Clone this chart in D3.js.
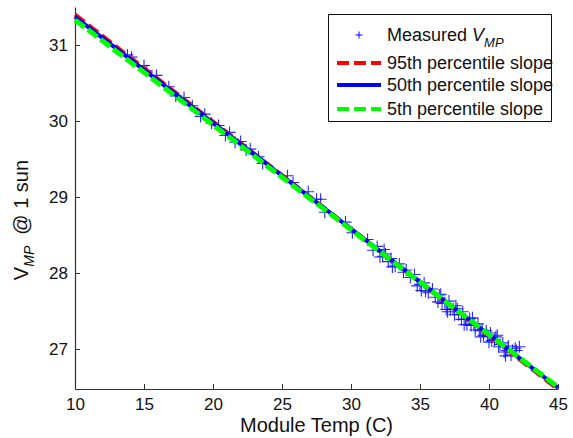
<!DOCTYPE html>
<html><head><meta charset="utf-8">
<script src="https://cdn.jsdelivr.net/npm/d3@7"></script>
<style>
body{margin:0;background:#fff;}
svg{display:block;font-family:"Liberation Sans",Arial,Helvetica,sans-serif;}
</style></head>
<body><svg id="c" width="573" height="438"></svg>
<script>
const temps = [13.8,14.1,15.0,15.2,15.9,16.8,17.3,17.9,18.5,19.1,19.4,19.9,20.4,20.9,21.2,21.6,22.0,22.4,22.7,23.3,23.6,25.4,25.8,26.9,27.5,27.8,28.1,29.6,30.1,31.2,31.6,31.9,32.1,32.3,32.5,32.7,32.9,33.2,33.5,33.8,34.0,34.3,34.6,34.8,35.0,35.1,35.3,35.6,35.9,36.1,36.3,36.4,36.6,36.8,36.9,37.1,37.2,37.4,37.5,37.7,37.8,38.0,38.1,38.3,38.4,38.6,38.7,38.9,39.0,39.2,39.3,39.5,39.6,39.8,39.9,40.1,40.2,40.4,40.5,40.7,40.8,41.0,41.1,41.3,41.4,41.6,41.7,41.9,42.0,42.2,36.5,37.0,37.6,38.2,38.8,39.4,40.0,40.6,41.2,35.4,33.0,32.4];
const vmp = [30.87,30.84,30.73,30.66,30.60,30.45,30.33,30.31,30.20,30.06,30.09,29.97,29.94,29.81,29.85,29.72,29.73,29.62,29.63,29.53,29.44,29.28,29.19,29.07,28.97,28.97,28.80,28.67,28.53,28.44,28.30,28.35,28.21,28.22,28.25,28.15,28.19,28.09,28.12,28.01,28.04,27.94,27.98,27.83,27.85,27.77,27.87,27.74,27.79,27.68,27.62,27.71,27.60,27.61,27.52,27.63,27.52,27.53,27.45,27.53,27.45,27.39,27.49,27.39,27.32,27.40,27.31,27.33,27.25,27.33,27.24,27.25,27.18,27.24,27.17,27.21,27.11,27.12,27.16,27.03,27.06,27.08,26.96,26.98,27.04,26.92,26.98,27.01,26.98,27.03,27.72,27.49,27.57,27.32,27.41,27.16,27.09,27.18,26.91,27.76,28.08,28.31];
const lineTemps = [10, 45];
const p95 = [31.40, 26.47];
const p50 = [31.37, 26.49];
const p5  = [31.33, 26.50];
const xTicks = [10,15,20,25,30,35,40,45];
const yTicks = [27,28,29,30,31];
const legendLabels = ["Measured", "95th percentile slope", "50th percentile slope", "5th percentile slope"];

const svg = d3.select("#c");
const L = 75, R = 558, T = 7, B = 389;
const x = d3.scaleLinear().domain([10,45]).range([L,R]);
const y = d3.scaleLinear().domain([27 - 40/76, 31 + 38/76]).range([B,T]);

// axes
const xAxis = d3.axisBottom(x).tickValues(xTicks).tickFormat(d3.format("d")).tickSizeInner(-5).tickSizeOuter(0).tickPadding(9);
const gx = svg.append("g").attr("transform",`translate(0,${B})`).call(xAxis);
const yAxis = d3.axisLeft(y).tickValues(yTicks).tickFormat(d3.format("d")).tickSizeInner(-5).tickSizeOuter(0).tickPadding(7);
const gy = svg.append("g").attr("transform",`translate(${L},0)`).call(yAxis);
[gx,gy].forEach(g=>{
  g.select(".domain").attr("stroke","#333").attr("stroke-width",1.2);
  g.selectAll(".tick line").attr("stroke","#333");
  g.selectAll(".tick text").attr("fill","#111").style("font-size","17px").style("font-family","'Liberation Sans',Arial,sans-serif");
});

// scatter
const plus = svg.append("g");
const ms = 6;
temps.forEach((t,i)=>{
  const cx = x(t), cy = y(vmp[i]);
  plus.append("path").attr("d",`M${cx-ms},${cy}H${cx+ms}M${cx},${cy-ms}V${cy+ms}`)
    .attr("stroke","#0000ff").attr("stroke-width",1.1).attr("stroke-opacity",0.85).attr("fill","none");
});

// lines
const line = d3.line().x(d=>x(d[0])).y(d=>y(d[1]));
const mk = arr => lineTemps.map((t,i)=>[t,arr[i]]);
svg.append("path").attr("d",line(mk(p95))).attr("stroke","#ff0000").attr("stroke-width",4).attr("stroke-dasharray","12,5").attr("fill","none");
svg.append("path").attr("d",line(mk(p50))).attr("stroke","#0000ff").attr("stroke-width",4).attr("fill","none");
svg.append("path").attr("d",line(mk(p5))).attr("stroke","#00ff00").attr("stroke-width",5).attr("stroke-dasharray","12,4").attr("fill","none");

// labels
svg.append("text").attr("x",(L+R)/2).attr("y",432).attr("text-anchor","middle")
  .style("font-size","20px").attr("fill","#111").text("Module Temp (C)");
const yl = svg.append("text").attr("transform",`translate(28,220) rotate(-90)`).attr("text-anchor","middle")
  .style("font-size","20px").attr("fill","#111");
yl.append("tspan").text("V");
yl.append("tspan").attr("dy",6).style("font-size","14px").style("font-style","italic").text("MP");
yl.append("tspan").attr("dy",-6).text("\u00a0\u00a0@ 1 sun");

// legend
const lg = svg.append("g");
lg.append("rect").attr("x",328.5).attr("y",14.5).attr("width",223).attr("height",107).attr("fill","#fff").attr("stroke","#111").attr("stroke-width",1);
const lx0 = 337, lx1 = 381, tx = 387;
const rows = [35, 63, 85, 109];
lg.append("path").attr("d",`M${359-3.5},${rows[0]}H${359+3.5}M359,${rows[0]-3.5}V${rows[0]+3.5}`).attr("stroke","#0000ff").attr("stroke-width",1);
const t0 = lg.append("text").attr("x",tx).attr("y",rows[0]+6).style("font-size","18px").attr("fill","#111");
t0.append("tspan").text(legendLabels[0]+" ");
t0.append("tspan").style("font-style","italic").text("V");
t0.append("tspan").attr("dy",6).style("font-size","13px").style("font-style","italic").text("MP");
const sty = [["#ff0000",4,"12,5"],["#0000ff",4,null],["#00ff00",4,"12,5"]];
sty.forEach((s,i)=>{
  const yy = rows[i+1];
  const p = lg.append("line").attr("x1",lx0).attr("x2",lx1).attr("y1",yy).attr("y2",yy).attr("stroke",s[0]).attr("stroke-width",s[1]);
  if(s[2]) p.attr("stroke-dasharray",s[2]);
  lg.append("text").attr("x",tx).attr("y",yy+6).style("font-size","18px").attr("fill","#111").text(legendLabels[i+1]);
});
</script></body></html>
